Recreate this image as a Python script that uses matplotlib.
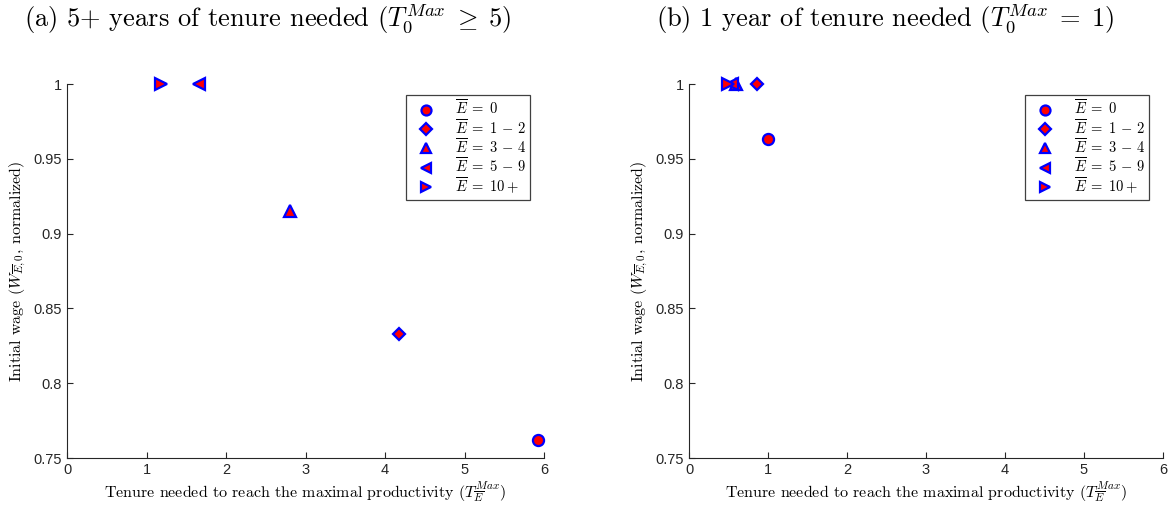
import numpy as np
import matplotlib.pyplot as plt
from matplotlib.ticker import FuncFormatter

plt.rcParams['mathtext.fontset'] = 'cm'
plt.rcParams['font.family'] = 'serif'
plt.rcParams['font.serif'] = ['cmr10', 'DejaVu Serif']
plt.rcParams['axes.formatter.use_mathtext'] = True

# Данные
groups = [r'$\overline{E}\;=\;0$', r'$\overline{E}\;=\;1\,-\,2$', r'$\overline{E}\;=\;3\,-\,4$',
          r'$\overline{E}\;=\;5\,-\,9$', r'$\overline{E}\;=\;10+$']
markers = ['o', 'D', '^', '<', '>']
msizes = [8, 6.5, 8, 8, 8]

# (a) T0 >= 5
tenure_a = [5.92, 4.18, 2.80, 1.66, 1.18]
wage_a = [0.762, 0.833, 0.915, 1.0, 1.0]

# (b) T0 = 1
tenure_b = [1.00, 0.86, 0.60, 0.54, 0.49]
wage_b = [0.963, 1.0, 1.0, 1.0, 1.0]

titles = [r'(a) 5+ years of tenure needed ($T_0^{Max}\;\geq\;5$)',
          r'(b) 1 year of tenure needed ($T_0^{Max}\;=\;1$)']

fig = plt.figure(figsize=(11.75, 5.14), dpi=100)
ax_a = fig.add_axes([67 / 1175, 1 - 458 / 514, 477 / 1175, 374 / 514])
ax_b = fig.add_axes([689 / 1175, 1 - 458 / 514, 474 / 1175, 374 / 514])

axis_col = '#262626'
for ax, xs, ys in [(ax_a, tenure_a, wage_a), (ax_b, tenure_b, wage_b)]:
    for x, y, m, ms, g in zip(xs, ys, markers, msizes, groups):
        ax.plot([x], [y], linestyle='none', marker=m, markersize=ms,
                markerfacecolor='red', markeredgecolor='blue',
                markeredgewidth=1.6, label=g, clip_on=False, zorder=3)
    ax.set_xlim(0, 6)
    ax.set_ylim(0.75, 1)
    ax.set_xticks(np.arange(0, 7, 1))
    ax.set_yticks([0.75, 0.8, 0.85, 0.9, 0.95, 1])
    ax.yaxis.set_major_formatter(FuncFormatter(lambda v, p: '%g' % v))
    ax.xaxis.set_major_formatter(FuncFormatter(lambda v, p: '%g' % v))
    for s in ['top', 'right']:
        ax.spines[s].set_visible(False)
    for s in ['left', 'bottom']:
        ax.spines[s].set_color(axis_col)
        ax.spines[s].set_linewidth(0.8)
    ax.tick_params(direction='in', length=4, width=0.8, colors=axis_col,
                   labelsize=10.5, labelcolor='#262626')
    for lab in ax.get_xticklabels() + ax.get_yticklabels():
        lab.set_fontfamily('Liberation Sans')
    ax.set_xlabel(r'Tenure needed to reach the maximal productivity ($T_{\overline{E}}^{Max}$)',
                  fontsize=11.5, labelpad=2)
    ax.set_ylabel(r'Initial wage ($W_{\overline{E},0}$, normalized)',
                  fontsize=11.5, labelpad=4)
    leg = ax.legend(loc='upper right', bbox_to_anchor=(0.97, 0.97),
                    fontsize=10.5, fancybox=False, framealpha=1,
                    edgecolor='#404040', borderpad=0.25, labelspacing=0.0,
                    handletextpad=0.9, handlelength=2.2, borderaxespad=0,
                    markerscale=0.9)
    leg.get_frame().set_linewidth(0.9)

fig.text(268 / 1175, 1 - 18 / 514, titles[0], ha='center', va='center', fontsize=19)
fig.text(885 / 1175, 1 - 18 / 514, titles[1], ha='center', va='center', fontsize=19)

fig.savefig('out.png', dpi=100)
